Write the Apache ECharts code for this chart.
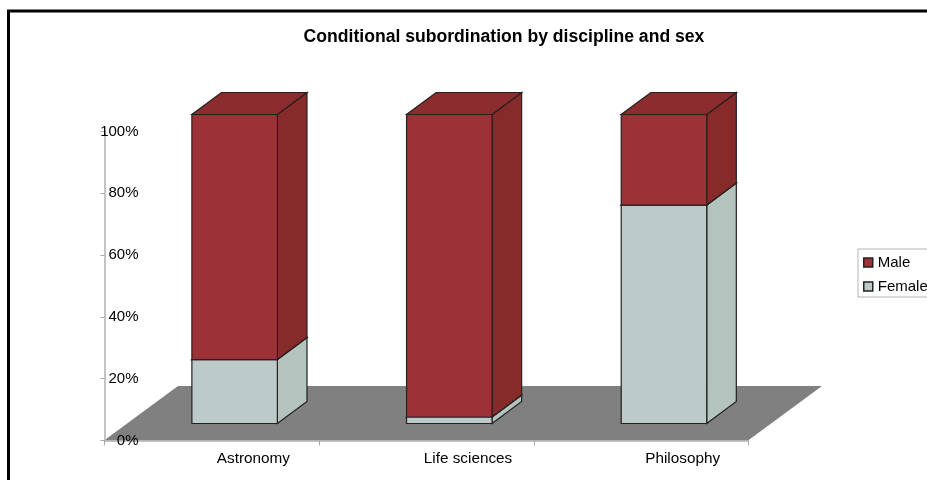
<!DOCTYPE html>
<html>
<head>
<meta charset="utf-8">
<style>
html, body { margin: 0; padding: 0; background: #fff; overflow: hidden; }
#main { width: 927px; height: 480px; }
</style>
<script src="https://cdn.jsdelivr.net/npm/echarts@6/dist/echarts.min.js"></script>
</head>
<body>
<div id="main"></div>
<script>
// values
var categories = ['Astronomy', 'Life sciences', 'Philosophy'];
var female = [20.7, 2.1, 70.7];
var male = [79.3, 97.9, 29.3];
var valueTicks = [0, 20, 40, 60, 80, 100];

var fontFamily = '"Liberation Sans", Arial, sans-serif';
var edge = '#26201f';
var barWidth = 85.5;
// the fake 3d: shift of the front face from the axis plane, and the box depth
var frontDx = 22.8, frontDy = -17;
var depthDx = 29.6, depthDy = -22;

function boxSeries(name, colors, starts, values) {
    var rows = categories.map(function (c, i) {
        return [i, starts[i], starts[i] + values[i]];
    });
    return {
        name: name,
        type: 'custom',
        itemStyle: { color: colors.front },
        encode: { x: 0, y: [1, 2] },
        data: rows,
        silent: true,
        renderItem: function (params, api) {
            var low = api.coord([api.value(0), api.value(1)]);
            var high = api.coord([api.value(0), api.value(2)]);
            var l = low[0] + frontDx - barWidth / 2;
            var r = l + barWidth;
            var b = low[1] + frontDy;
            var t = high[1] + frontDy;
            var dx = depthDx, dy = depthDy;
            var face = function (points, fill) {
                return {
                    type: 'polygon',
                    shape: { points: points },
                    style: { fill: fill, stroke: edge, lineWidth: 1.2 }
                };
            };
            return {
                type: 'group',
                children: [
                    face([[r, b], [r + dx, b + dy], [r + dx, t + dy], [r, t]], colors.side),
                    face([[l, t], [r, t], [r + dx, t + dy], [l + dx, t + dy]], colors.top),
                    face([[l, b], [r, b], [r, t], [l, t]], colors.front)
                ]
            };
        }
    };
}

var myChart = echarts.init(document.getElementById('main'));

var option = {
    animation: false,
    backgroundColor: '#fff',
    textStyle: { fontFamily: fontFamily },
    title: {
        text: 'Conditional subordination by discipline and sex',
        left: 499,
        textAlign: 'center',
        top: 23,
        textStyle: { fontFamily: fontFamily, fontSize: 17.6, fontWeight: 'bold', color: '#000' }
    },
    legend: {
        orient: 'vertical',
        left: 858,
        top: 249,
        padding: [6, 10, 3, 5],
        itemWidth: 9,
        itemHeight: 9,
        itemGap: 9,
        icon: 'rect',
        borderColor: '#b4b4b4',
        borderWidth: 1,
        backgroundColor: '#fff',
        selectedMode: false,
        data: ['Male', 'Female'],
        itemStyle: { borderColor: edge, borderWidth: 1.5 },
        textStyle: { fontFamily: fontFamily, fontSize: 15, color: '#000', padding: [0, 0, 0, 0] }
    },
    grid: { left: 104.5, top: 131.5, width: 644, height: 309 },
    xAxis: {
        type: 'category',
        data: categories,
        axisLine: { lineStyle: { color: '#b0b0b0', width: 1.5 } },
        axisTick: { show: true, length: 5, lineStyle: { color: '#a8a8a8', width: 1 } },
        axisLabel: {
            color: '#000',
            fontFamily: fontFamily,
            fontSize: 15.3,
            margin: 11,
            padding: [0, 0, 0, 83]
        }
    },
    yAxis: {
        type: 'value',
        min: valueTicks[0],
        max: valueTicks[valueTicks.length - 1],
        interval: valueTicks[1] - valueTicks[0],
        splitLine: { show: false },
        axisLine: { show: true, lineStyle: { color: '#c4c4c4', width: 2 } },
        axisTick: { show: true, length: 4, lineStyle: { color: '#a8a8a8' } },
        axisLabel: {
            inside: true,
            align: 'right',
            margin: 34,
            color: '#000',
            fontFamily: fontFamily,
            fontSize: 15,
            formatter: '{value}%'
        }
    },
    graphic: [
        {
            type: 'polygon',
            z: -1,
            silent: true,
            shape: { points: [[104, 440.5], [178, 386], [822, 386], [748, 440.5]] },
            style: { fill: '#808080' }
        },
        {
            type: 'rect',
            z: 100,
            silent: true,
            shape: { x: 8.5, y: 11, width: 940, height: 490 },
            style: { fill: 'none', stroke: '#000', lineWidth: 3 }
        }
    ],
    series: [
        boxSeries('Female', { front: '#bccaca', side: '#b3c3bd', top: '#bccaca' }, [0, 0, 0], female),
        boxSeries('Male', { front: '#9c3238', side: '#862a2a', top: '#8b2c2f' }, female, male)
    ]
};

option && myChart.setOption(option);
</script>
</body>
</html>
